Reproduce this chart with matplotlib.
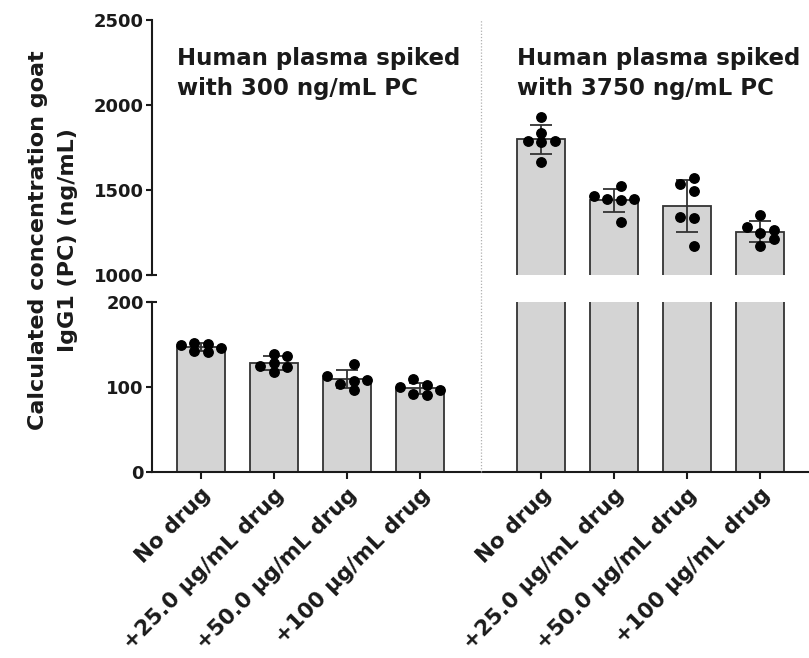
import numpy as np
import matplotlib
matplotlib.use("Agg")
import matplotlib.pyplot as plt
from matplotlib.transforms import blended_transform_factory

# ---------------- data ----------------
categories = ["No drug", "+25.0 µg/mL drug", "+50.0 µg/mL drug", "+100 µg/mL drug"]
group_titles = ["Human plasma spiked\nwith 300 ng/mL PC",
                "Human plasma spiked\nwith 3750 ng/mL PC"]

pc300_nodrug = [152, 151, 150, 146, 142, 141]
pc300_d25 = [139, 136, 128, 125, 124, 118]
pc300_d50 = [127, 113, 108, 107, 104, 96]
pc300_d100 = [109, 102, 100, 96, 91, 92]

pc3750_nodrug = [1930, 1835, 1790, 1788, 1785, 1665]
pc3750_d25 = [1525, 1462, 1448, 1445, 1440, 1310]
pc3750_d50 = [1571, 1536, 1493, 1340, 1335, 1170]
pc3750_d100 = [1355, 1280, 1262, 1250, 1210, 1170]

top_ticks = [1000, 1500, 2000, 2500]
bottom_ticks = [0, 100, 200]
ylabel = "Calculated concentration goat\nIgG1 (PC) (ng/mL)"

groups = [[pc300_nodrug, pc300_d25, pc300_d50, pc300_d100],
          [pc3750_nodrug, pc3750_d25, pc3750_d50, pc3750_d100]]

# ---------------- style / layout ----------------
FONT = "DejaVu Sans"
plt.rcParams["font.family"] = [FONT]
plt.rcParams["font.weight"] = "bold"
DARK = "#1a1a1a"
BAR_FILL = "#d4d4d4"
BAR_EDGE = "#333333"
group_gap = 1.66
bar_w = 0.65

W, H = 809, 658
fig = plt.figure(figsize=(W / 100, H / 100), dpi=100)
left_px, right_px = 152, 809
top_top_px, top_bot_px = 20, 275
bot_top_px, bot_bot_px = 302, 472
ax_top = fig.add_axes([left_px / W, 1 - top_bot_px / H, (right_px - left_px) / W,
                       (top_bot_px - top_top_px) / H])
ax_bot = fig.add_axes([left_px / W, 1 - bot_bot_px / H, (right_px - left_px) / W,
                       (bot_bot_px - bot_top_px) / H])

px_per_unit_x = 73.0
xmin = -0.67
xmax = xmin + (right_px - left_px) / px_per_unit_x

ax_top.set_ylim(top_ticks[0], top_ticks[-1])
ax_bot.set_ylim(bottom_ticks[0], bottom_ticks[-1])
for ax in (ax_top, ax_bot):
    ax.set_xlim(xmin, xmax)
    ax.set_facecolor("none")

# pixel scales for swarm placement
top_px_per_val = (top_bot_px - top_top_px) / (top_ticks[-1] - top_ticks[0])
bot_px_per_val = (bot_bot_px - bot_top_px) / (bottom_ticks[-1] - bottom_ticks[0])


def _swarm(vals, px_per_val, cand, step_px, diam_px):
    order = np.argsort(vals)
    placed = []
    offs = np.zeros(len(vals))
    for idx in order:
        y = vals[idx] * px_per_val
        for c in cand:
            x = c * step_px
            if all((x - px) ** 2 + (y - py) ** 2 >= 0.75 * diam_px ** 2 for px, py in placed):
                placed.append((x, y))
                offs[idx] = x
                break
    return offs


def swarm_offsets(vals, px_per_val, step_px=13.5, diam_px=9.5):
    vals = np.asarray(vals, float)
    cand_int = [0] + [s * k for k in range(1, 6) for s in (1, -1)]
    cand_half = [s * (k - 0.5) for k in range(1, 6) for s in (1, -1)]
    a = _swarm(vals, px_per_val, cand_int, step_px, diam_px)
    b = _swarm(vals, px_per_val, cand_half, step_px, diam_px)
    best = a if np.max(np.abs(a)) <= np.max(np.abs(b)) else b
    return best / px_per_unit_x


positions = []
for g, series in enumerate(groups):
    base = g * (len(categories) - 1 + group_gap)
    pos = [base + i for i in range(len(series))]
    positions.append(pos)
    means = [np.mean(s) for s in series]
    sds = [np.std(s, ddof=1) for s in series]
    for ax in (ax_top, ax_bot):
        ax.bar(pos, means, width=bar_w, color=BAR_FILL, edgecolor=BAR_EDGE,
               linewidth=1.3, zorder=2)
        ax.errorbar(pos, means, yerr=sds, fmt="none", ecolor=BAR_EDGE,
                    elinewidth=1.3, capsize=8, capthick=1.3, zorder=3)
    scale = bot_px_per_val if g == 0 else top_px_per_val
    for p, s in zip(pos, series):
        offs = swarm_offsets(s, scale)
        for ax in (ax_top, ax_bot):
            ax.plot(np.array([p] * len(s)) + offs, s, "o", color="black",
                    markersize=6.8, zorder=4, linestyle="none")

# ---------------- axes styling ----------------
for ax in (ax_top, ax_bot):
    ax.spines["top"].set_visible(False)
    ax.spines["right"].set_visible(False)
    ax.spines["left"].set_linewidth(1.5)
    ax.spines["left"].set_color(DARK)
    ax.tick_params(axis="y", length=4.5, width=1.5, color=DARK, labelsize=13,
                   pad=1.5, labelcolor=DARK)
ax_top.spines["bottom"].set_visible(False)
ax_top.set_xticks([])
ax_top.set_yticks(top_ticks)
ax_bot.set_yticks(bottom_ticks)
ax_bot.spines["bottom"].set_linewidth(1.5)
ax_bot.spines["bottom"].set_color(DARK)

all_pos = positions[0] + positions[1]
ax_bot.set_xticks(all_pos)
ax_bot.set_xticklabels(categories * 2, rotation=45, ha="right", va="top",
                       rotation_mode="anchor", fontsize=15.5, color=DARK)
ax_bot.tick_params(axis="x", length=5, width=1.5, color=DARK, pad=4)

for lab in ax_top.get_yticklabels() + ax_bot.get_yticklabels() + ax_bot.get_xticklabels():
    lab.set_fontweight("bold")

# break-end ticks
ax_top.plot([xmin], [top_ticks[0]], marker="_", markersize=7, mew=1.5,
            color=DARK, clip_on=False, zorder=5)
ax_bot.plot([xmin], [bottom_ticks[-1]], marker="_", markersize=7, mew=1.5,
            color=DARK, clip_on=False, zorder=5)

# dotted group separator
sep_x = (positions[0][-1] + positions[1][0]) / 2
tr = blended_transform_factory(ax_bot.transData, fig.transFigure)
fig.add_artist(plt.Line2D([sep_x, sep_x], [1 - bot_bot_px / H, 1 - top_top_px / H],
                          transform=tr, color="#b0b0b0", linewidth=0.9,
                          linestyle=(0, (1, 1.5)), zorder=10))

# group titles
for g, title in enumerate(group_titles):
    x0 = positions[g][0] - bar_w / 2
    ax_top.text(x0, 2344, title, ha="left", va="top", fontsize=16.5,
                fontweight="bold", color=DARK, linespacing=1.4)

# y label
fig.text(53 / W, 1 - 240 / H, ylabel, rotation=90, ha="center", va="center",
         fontsize=16, fontweight="bold", color=DARK, multialignment="center",
         linespacing=1.6)

fig.savefig("out.png", dpi=100)
